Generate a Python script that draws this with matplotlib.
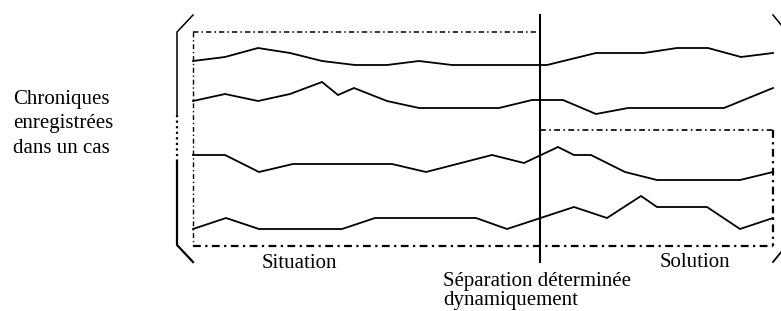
import matplotlib.pyplot as plt

###################################################################
#        Values (picture pixel units)
###################################################################
s1_x = [193, 225, 258, 290, 322, 355, 387, 419, 452, 547, 596, 644, 677, 708, 741, 773]
s1_y = [61, 57, 48, 53, 61, 65, 65, 61, 65, 65, 53, 53, 48, 48, 57, 53]

s2_x = [193, 225, 258, 290, 322, 338, 354, 387, 419, 499, 532, 563, 596, 628, 724, 773]
s2_y = [101, 94, 101, 94, 82, 95, 88, 101, 108, 108, 100, 100, 114, 108, 108, 88]

s3_x = [193, 225, 259, 293, 392, 426, 492, 524, 558, 574, 591, 625, 657, 740, 773]
s3_y = [155, 155, 172, 164, 164, 172, 155, 163, 147, 155, 155, 172, 180, 180, 172]

s4_x = [193, 226, 259, 342, 375, 476, 507, 574, 607, 641, 657, 707, 740, 773]
s4_y = [229, 218, 229, 229, 218, 218, 229, 207, 218, 196, 207, 207, 229, 218]

series = [(s1_x, s1_y), (s2_x, s2_y), (s3_x, s3_y), (s4_x, s4_y)]

# frame of the schema
x_left, x_split, x_right = 193, 540, 773
y_top_sit, y_top_sol, y_bottom = 32, 130, 246
bracket_x = 177
#------------------------------------------------------------------

plt.rcParams['font.family'] = ['Liberation Serif', 'DejaVu Serif']

fig = plt.figure(figsize=(7.81, 3.11), dpi=100)
ax = fig.add_axes([0, 0, 1, 1])
ax.set_xlim(0, 781)
ax.set_ylim(311, 0)
ax.axis('off')

# recorded time series
for xs, ys in series:
    ax.plot(xs, ys, color='black', linewidth=1.3, solid_joinstyle='miter')

# dash-dot boxes: situation / solution
dd = (3.5, 2, 1, 2)
ax.plot([x_left, x_split], [y_top_sit, y_top_sit], color='black', linewidth=1.1, dashes=dd)
ax.plot([x_left, x_left], [y_top_sit, y_bottom], color='black', linewidth=1.0, dashes=dd)
ax.plot([x_split, x_right], [y_top_sol, y_top_sol], color='black', linewidth=1.2, dashes=dd)
ax.plot([x_right, x_right], [y_top_sol, y_bottom], color='black', linewidth=1.6, dashes=dd)
ax.plot([x_left, x_right], [y_bottom, y_bottom], color='black', linewidth=1.6, dashes=dd)

# dynamic separation
ax.plot([x_split, x_split], [15, 262], color='black', linewidth=1.5)

# left bracket
ax.plot([193, bracket_x, bracket_x], [15, 32, 115], color='black', linewidth=1.1)
ax.plot([bracket_x, bracket_x], [115, 162], color='black', linewidth=1.6, linestyle=(0, (1, 1.5)))
ax.plot([bracket_x, bracket_x, 193], [162, 245, 262], color='black', linewidth=1.6)

# right bracket (only its ends are inside the picture)
ax.plot([773, 782], [15, 26], color='black', linewidth=1.1)
ax.plot([773, 782], [262, 251], color='black', linewidth=1.3)

# labels
fs = 15
ax.text(13, 104, 'Chroniques', fontsize=fs, va='baseline', ha='left')
ax.text(13, 128, 'enregistrées', fontsize=fs, va='baseline', ha='left')
ax.text(13, 153, 'dans un cas', fontsize=fs, va='baseline', ha='left')
ax.text(262, 268, 'Situation', fontsize=fs, va='baseline', ha='left')
ax.text(660, 267, 'Solution', fontsize=fs, va='baseline', ha='left')
ax.text(443, 286, 'Séparation déterminée', fontsize=fs, va='baseline', ha='left')
ax.text(443, 305, 'dynamiquement', fontsize=fs, va='baseline', ha='left')

plt.savefig('out.png', dpi=100)
